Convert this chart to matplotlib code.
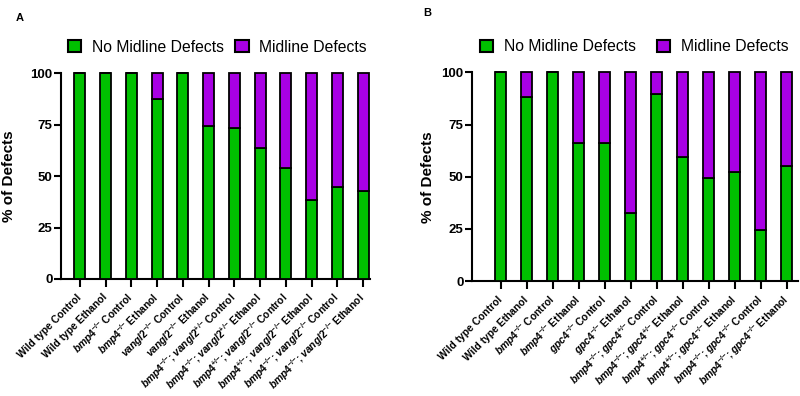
import matplotlib
matplotlib.use("Agg")
import matplotlib.pyplot as plt
from matplotlib.patches import Patch

plt.rcParams['font.family'] = ['Liberation Sans', 'DejaVu Sans']
plt.rcParams['mathtext.fontset'] = 'custom'
plt.rcParams['mathtext.rm'] = 'Liberation Sans:bold'
plt.rcParams['mathtext.it'] = 'Liberation Sans:italic:bold'
plt.rcParams['mathtext.bf'] = 'Liberation Sans:bold'
plt.rcParams['mathtext.sf'] = 'Liberation Sans:bold'

MM = r'^{{-}/{-}}'
PM = r'^{{+}/{-}}'

labels_a = [
    'Wild type Control', 'Wild type Ethanol',
    r'$\mathit{bmp4}' + MM + r'$ Control', r'$\mathit{bmp4}' + MM + r'$ Ethanol',
    r'$\mathit{vangl2}' + MM + r'$ Control', r'$\mathit{vangl2}' + MM + r'$ Ethanol',
    r'$\mathit{bmp4}' + MM + r'$; $\mathit{vangl2}' + PM + r'$ Control',
    r'$\mathit{bmp4}' + MM + r'$; $\mathit{vangl2}' + PM + r'$ Ethanol',
    r'$\mathit{bmp4}' + PM + r'$; $\mathit{vangl2}' + MM + r'$ Control',
    r'$\mathit{bmp4}' + PM + r'$; $\mathit{vangl2}' + MM + r'$ Ethanol',
    r'$\mathit{bmp4}' + MM + r'$; $\mathit{vangl2}' + MM + r'$ Control',
    r'$\mathit{bmp4}' + MM + r'$; $\mathit{vangl2}' + MM + r'$ Ethanol',
]
no_defects_a = [100, 100, 100, 87.5, 100, 74.5, 73.5, 63.5, 53.8, 38.5, 44.5, 42.5]
defects_a = [0, 0, 0, 12.5, 0, 25.5, 26.5, 36.5, 46.2, 61.5, 55.5, 57.5]

labels_b = [
    'Wild type Control', 'Wild type Ethanol',
    r'$\mathit{bmp4}' + MM + r'$ Control', r'$\mathit{bmp4}' + MM + r'$ Ethanol',
    r'$\mathit{gpc4}' + MM + r'$ Control', r'$\mathit{gpc4}' + MM + r'$ Ethanol',
    r'$\mathit{bmp4}' + MM + r'$; $\mathit{gpc4}' + PM + r'$ Control',
    r'$\mathit{bmp4}' + MM + r'$; $\mathit{gpc4}' + PM + r'$ Ethanol',
    r'$\mathit{bmp4}' + PM + r'$; $\mathit{gpc4}' + MM + r'$ Control',
    r'$\mathit{bmp4}' + PM + r'$; $\mathit{gpc4}' + MM + r'$ Ethanol',
    r'$\mathit{bmp4}' + MM + r'$; $\mathit{gpc4}' + MM + r'$ Control',
    r'$\mathit{bmp4}' + MM + r'$; $\mathit{gpc4}' + MM + r'$ Ethanol',
]
no_defects_b = [100, 88.2, 100, 66.4, 66.4, 32.5, 89.5, 59.5, 49.3, 52.2, 24.3, 55.3]
defects_b = [0, 11.8, 0, 33.6, 33.6, 67.5, 10.5, 40.5, 50.7, 47.8, 75.7, 44.7]

GREEN = '#00C000'
PURPLE = '#A800E4'

fig = plt.figure(figsize=(8, 3.96), dpi=100)


def draw(ax, labels, nod, d, xlim, ylpad):
    x = list(range(len(labels)))
    ax.bar(x, nod, width=0.43, color=GREEN, edgecolor='black', linewidth=1.3, clip_on=False, zorder=3)
    ax.bar(x, d, bottom=nod, width=0.43, color=PURPLE, edgecolor='black', linewidth=1.3, clip_on=False, zorder=3)
    ax.set_ylim(0, 100)
    ax.set_xlim(*xlim)
    ax.set_yticks([0, 25, 50, 75, 100])
    ax.set_yticklabels(['0', '25', '50', '75', '100'], fontsize=9.5, fontweight='bold')
    ax.set_xticks(x)
    ax.set_xticklabels(labels, rotation=45, ha='right', va='center', rotation_mode='anchor',
                       fontsize=7.4, fontweight='bold')
    ax.tick_params(axis='x', length=6, width=1.5, pad=6)
    ax.tick_params(axis='y', length=5, width=1.5, pad=1)
    for s in ['top', 'right']:
        ax.spines[s].set_visible(False)
    for s in ['left', 'bottom']:
        ax.spines[s].set_linewidth(1.5)
    ax.set_ylabel('% of Defects', fontsize=11, fontweight='bold', labelpad=ylpad)


ax1 = fig.add_axes([0.076, 0.2955, 0.3865, 0.520])
draw(ax1, labels_a, no_defects_a, defects_a, (-0.74, 11.27), 10)
ax2 = fig.add_axes([0.59, 0.290, 0.408, 0.527])
draw(ax2, labels_b, no_defects_b, defects_b, (-1.1, 11.45), 5)

handles = [Patch(facecolor=GREEN, edgecolor='black', linewidth=1.5),
           Patch(facecolor=PURPLE, edgecolor='black', linewidth=1.5)]
names = ['No Midline Defects', 'Midline Defects']
fig.legend(handles, names, loc='center left', bbox_to_anchor=(0.075, 0.881), ncol=2,
           frameon=False, fontsize=11.3, borderpad=0, handlelength=0.85, handleheight=0.85,
           handletextpad=0.7, columnspacing=0.7)
fig.legend(handles, names, loc='center left', bbox_to_anchor=(0.59, 0.882), ncol=2,
           frameon=False, fontsize=11.3, borderpad=0, handlelength=0.85, handleheight=0.85,
           handletextpad=0.7, columnspacing=1.3)

fig.text(0.025, 0.955, 'A', fontsize=8, fontweight='bold', ha='center', va='center')
fig.text(0.534, 0.968, 'B', fontsize=8, fontweight='bold', ha='center', va='center')

fig.savefig('out.png', dpi=100)
